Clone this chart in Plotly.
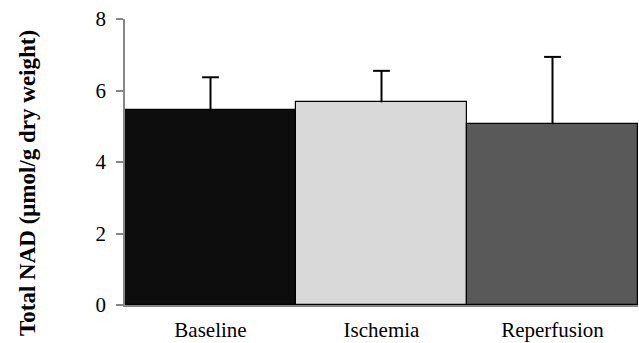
import plotly.graph_objects as go

categories = ["Baseline", "Ischemia", "Reperfusion"]
values = [5.45, 5.67, 5.06]
errors = [0.92, 0.88, 1.88]
colors = ["#0d0d0d", "#d9d9d9", "#595959"]
y_ticks = [0, 2, 4, 6, 8]
y_title = "<b>Total NAD (μmol/g dry weight)</b>"

err_tops = [v + e for v, e in zip(values, errors)]

fig = go.Figure()
fig.add_trace(go.Bar(
    x=categories, y=values,
    marker=dict(color=colors, line=dict(color="#000000", width=1.2)),
))
# error whiskers (upward only) with caps
fig.add_trace(go.Scatter(
    x=categories, y=err_tops, mode="markers",
    marker=dict(symbol="line-ew", size=12, line=dict(color="#000000", width=2)),
    error_y=dict(type="data", array=[0, 0, 0], arrayminus=errors, symmetric=False,
                 color="#000000", thickness=2, width=0),
    hoverinfo="skip",
))
fig.update_layout(
    width=639, height=343,
    margin=dict(l=125, r=1, t=19, b=38),
    plot_bgcolor="white", paper_bgcolor="white",
    bargap=0, showlegend=False,
    font=dict(family="Liberation Serif", size=21, color="#000000"),
    annotations=[dict(text=y_title, textangle=-90, xref="paper", yref="paper",
                      x=-0.19, y=0.425, xanchor="center", yanchor="middle",
                      showarrow=False, font=dict(size=23))],
)
fig.update_yaxes(range=[0, 8], tickvals=y_ticks, showgrid=False, zeroline=False,
                 showline=True, linecolor="#868686", linewidth=1.5,
                 ticks="outside", ticklen=7, tickcolor="#868686", tickwidth=1.5,
                 ticklabelstandoff=6, automargin=False)
fig.update_xaxes(showgrid=False, showline=True, linecolor="#868686", linewidth=1.5,
                 ticks="", ticklabelstandoff=5, automargin=False)
fig.write_html("out.html", config={"displayModeBar": False},
               post_script="document.body.style.margin='0';")
